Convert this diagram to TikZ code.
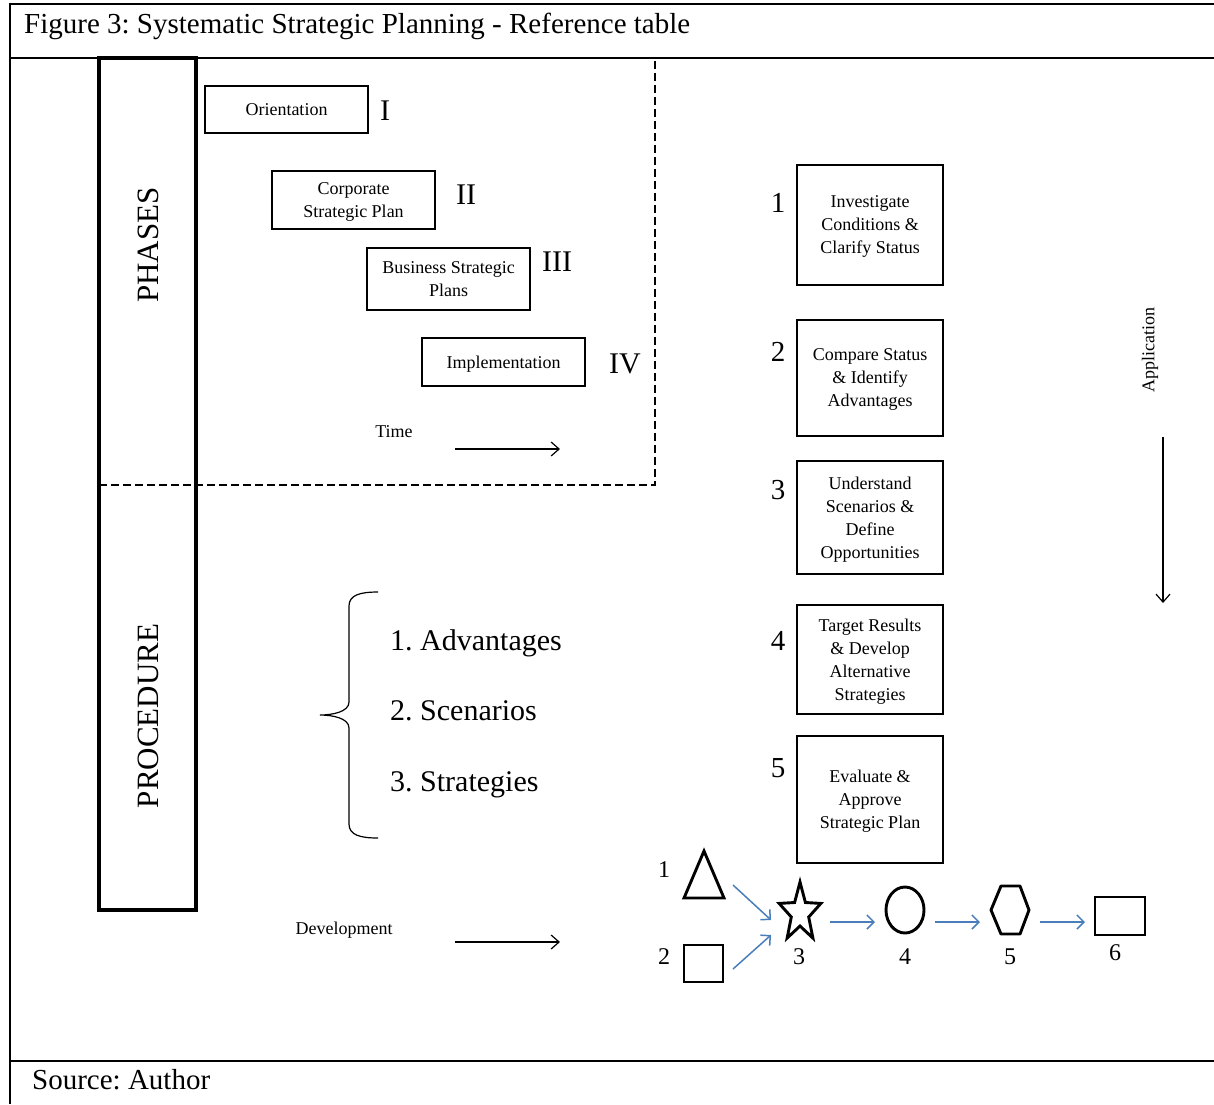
\documentclass[tikz,border=0pt]{standalone}
\usepackage{fontspec}
\setmainfont{Liberation Serif}
\usetikzlibrary{arrows.meta,shapes.geometric}
\definecolor{arrowblue}{RGB}{74,126,187}
\begin{document}
\frenchspacing
\begin{tikzpicture}[x=1pt,y=-1pt,
  frame/.style={line width=2.2pt},
  pbox/.style={draw, line width=2.9pt, minimum width=163pt, inner sep=0pt, text depth=0pt, align=center, font=\fontsize{18}{23}\selectfont},
  sbox/.style={draw, line width=2.9pt, minimum width=146pt, inner sep=0pt, text depth=0pt, align=center, font=\fontsize{18}{23}\selectfont},
  roman/.style={font=\fontsize{30}{30}\selectfont, inner sep=0pt},
  num/.style={font=\fontsize{29}{29}\selectfont, inner sep=0pt},
  snum/.style={font=\fontsize{24}{24}\selectfont, inner sep=0pt},
  small/.style={font=\fontsize{18}{18}\selectfont, inner sep=0pt},
  big/.style={font=\fontsize{31}{31}\selectfont, inner sep=0pt},
  listitem/.style={font=\fontsize{30}{30}\selectfont, inner sep=0pt, anchor=base west},
  blk/.style={line width=1.2pt, -{Straight Barb[length=8pt,width=14pt,line width=1.2pt]}},
  blu/.style={draw=arrowblue, line width=1.5pt, -{Straight Barb[length=7pt,width=14pt,line width=1.5pt]}},
  shp/.style={line width=2.9pt},
  dashline/.style={line width=1.2pt, dash pattern=on 8pt off 4pt}
]
\useasboundingbox (0,0) rectangle (1214,1104);

% outer frame
\draw[frame] (1214,4) -- (10,4) -- (10,1104);
\draw[frame] (10,58) -- (1214,58);
\draw[frame] (10,1061) -- (1214,1061);
\node[font=\fontsize{29}{29}\selectfont, inner sep=0pt, anchor=base west] (title) at (24,33) {Figure 3: Systematic Strategic Planning - Reference table};
\node[font=\fontsize{29}{29}\selectfont, inner sep=0pt, anchor=base west] (source) at (32,1089) {Source: Author};

% column
\draw[line width=3.2pt] (99,58) rectangle (196,910);
\node[big, rotate=90] (phases) at (148,245) {PHASES};
\node[big, rotate=90] (procedure) at (148,716) {PROCEDURE};

% dashed region
\draw[dashline] (99,485) -- (655,485) -- (655,58);

% phase boxes
\node[pbox, minimum height=47pt] (orient) at (286.5,109.5) {Orientation};
\node[pbox, minimum height=58pt] (corp) at (353.5,200) {Corporate\\Strategic Plan};
\node[pbox, minimum height=62pt] (bus) at (448.5,279) {Business Strategic\\Plans};
\node[pbox, minimum height=48pt] (impl) at (503.5,362) {Implementation};
\node[roman] (r1) at (385,111) {I};
\node[roman] (r2) at (466,195) {II};
\node[roman] (r3) at (557,262) {III};
\node[roman] (r4) at (625,364) {IV};

\node[small] (time) at (394,432) {Time};
\coordinate (t1) at (455,449);
\coordinate (t2) at (560,449);
\draw[blk] (t1) -- (t2);

% procedure boxes
\node[sbox, minimum height=120pt] (s1) at (870,225) {Investigate\\Conditions \&\\Clarify Status};
\node[sbox, minimum height=116pt] (s2) at (870,378) {Compare Status\\\& Identify\\Advantages};
\node[sbox, minimum height=113pt] (s3) at (870,517.5) {Understand\\Scenarios \&\\Define\\Opportunities};
\node[sbox, minimum height=109pt] (s4) at (870,659.5) {Target Results\\\& Develop\\Alternative\\Strategies};
\node[sbox, minimum height=127pt] (s5) at (870,799.5) {Evaluate \&\\Approve\\Strategic Plan};
\node[num] (n1) at (778,203) {1};
\node[num] (n2) at (778,352) {2};
\node[num] (n3) at (778,490) {3};
\node[num] (n4) at (778,641) {4};
\node[num] (n5) at (778,768) {5};

\node[small, rotate=90] (app) at (1150,350) {Application};
\coordinate (a1) at (1163,437);
\coordinate (a2) at (1163,603);
\draw[blk] (a1) -- (a2);

% brace and list
\draw[line width=1.2pt] (378,592) .. controls (360,592) and (349,595) .. (349,606)
  -- (349,702) .. controls (349,712) and (332,715) .. (320,715)
  .. controls (332,715) and (349,718) .. (349,728)
  -- (349,824) .. controls (349,835) and (360,838) .. (378,838);
\node[listitem] (l1) at (390,650) {1. Advantages};
\node[listitem] (l2) at (390,720) {2. Scenarios};
\node[listitem] (l3) at (390,791) {3. Strategies};

\node[small] (dev) at (344,930) {Development};
\coordinate (d1) at (455,942);
\coordinate (d2) at (560,942);
\draw[blk] (d1) -- (d2);

% bottom shapes
\draw[shp, line join=miter] (704,851) -- (684,898) -- (724,898) -- cycle;
\draw[shp] (684,945) rectangle (723,982);
\draw[shp, line join=miter] (800,882) -- (805.4,902.5) -- (820.9,903.4) -- (808.7,917) -- (812.9,938.1)
  -- (800,926) -- (787.1,938.1) -- (791.3,917) -- (779.1,903.4) -- (794.6,902.5) -- cycle;
\draw[shp] (905,910) ellipse [x radius=19pt, y radius=23pt];
\draw[shp, line join=round] (1001,886) -- (1020,886) -- (1029,910) -- (1020,934) -- (1001,934) -- (991,910) -- cycle;
\draw[shp] (1095,897) rectangle (1145,935);

\node[snum] (b1) at (664,870) {1};
\node[snum] (b2) at (664,957) {2};
\node[snum] (b3) at (799,957) {3};
\node[snum] (b4) at (905,957) {4};
\node[snum] (b5) at (1010,957) {5};
\node[snum] (b6) at (1115,953) {6};

\coordinate (e1s) at (733,885);
\coordinate (e1e) at (771,920);
\coordinate (e2s) at (733,969);
\coordinate (e2e) at (771,935);
\coordinate (e3s) at (830,922);
\coordinate (e3e) at (875,922);
\coordinate (e4s) at (935,922);
\coordinate (e4e) at (980,922);
\coordinate (e5s) at (1040,922);
\coordinate (e5e) at (1085,922);
\draw[blu] (e1s) -- (e1e);
\draw[blu] (e2s) -- (e2e);
\draw[blu] (e3s) -- (e3e);
\draw[blu] (e4s) -- (e4e);
\draw[blu] (e5s) -- (e5e);
\end{tikzpicture}
\end{document}
